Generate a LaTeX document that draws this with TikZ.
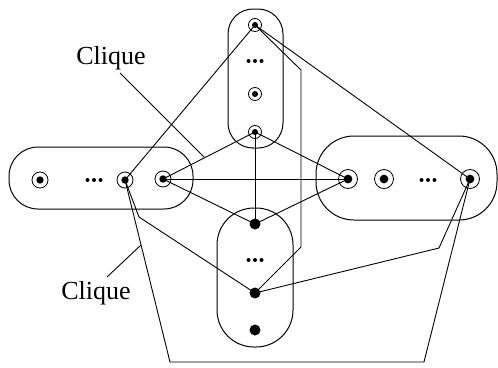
\documentclass[tikz,border=0pt]{standalone}
\usepackage{fontspec}
\setmainfont{Liberation Serif}
\begin{document}
\begin{tikzpicture}[x=1pt,y=-1pt,line width=0.9pt,
  cnode/.style={circle,draw,line width=0.8pt,inner sep=0pt,minimum size=#1,
    path picture={\fill (path picture bounding box.center) circle (0.23*#1);}},
  cnode/.default=15pt,
  bnode/.style={circle,fill,inner sep=0pt,minimum size=11pt},
  dots/.style={inner sep=0pt,minimum width=18pt,minimum height=5pt,
    path picture={\fill ([xshift=-6.5pt]path picture bounding box.center) circle (2pt)
                        (path picture bounding box.center) circle (2pt)
                        ([xshift=6.5pt]path picture bounding box.center) circle (2pt);}},
  boxline/.style={line width=1pt},
  edge/.style={line width=0.9pt},
  lbl/.style={font=\fontsize{26}{30}\selectfont,inner sep=0pt}]
\useasboundingbox (0,0) rectangle (498,367);
% boxes
\draw[boxline,rounded corners=25pt] (228,9) rectangle (283,148);
\draw[boxline,rounded corners=29pt] (9,147) rectangle (193,209);
\draw[boxline,rounded corners=38pt] (316,136) rectangle (497,220);
\draw[boxline,rounded corners=37pt] (217,208) rectangle (293,347);
% nodes
\node[cnode=13pt] (t1) at (255,25) {};
\node[dots] (td) at (255,61) {};
\node[cnode=13pt] (t2) at (255,94) {};
\node[cnode=13pt] (t3) at (255,132) {};
\node[cnode=16pt] (l1) at (40,180) {};
\node[dots] (ld) at (94,180) {};
\node[cnode=16pt] (l2) at (125,180) {};
\node[cnode=16pt] (l3) at (163,179) {};
\node[cnode=19pt] (r1) at (348,179) {};
\node[cnode=19pt] (r2) at (384,179) {};
\node[dots] (rd) at (428,180) {};
\node[cnode=19pt] (r3) at (470,179) {};
\node[bnode] (b1) at (255,224) {};
\node[dots] (bd) at (255,260) {};
\node[bnode] (b2) at (255,293) {};
\node[bnode] (b3) at (255,330) {};
% bend coordinates
\coordinate (p1) at (301,70);
\coordinate (p2) at (301,247);
\coordinate (p3) at (139,217);
\coordinate (p4) at (170,362);
\coordinate (p5) at (424,362);
\coordinate (p6) at (439,248);
% edges
\draw[edge] (t1.center) -- (l2.center);
\draw[edge] (t1.center) -- (r3.center);
\draw[edge] (t1.center) -- (p1) -- (p2) -- (b2.center);
\draw[edge] (t3.center) -- (l3.center);
\draw[edge] (t3.center) -- (r1.center);
\draw[edge] (t3.center) -- (b1.center);
\draw[edge] (l3.center) -- (r1.center);
\draw[edge] (l3.center) -- (b1.center);
\draw[edge] (r1.center) -- (b1.center);
\draw[edge] (l2.center) -- (p3) -- (b2.center);
\draw[edge] (l2.center) -- (p4) -- (p5) -- (r3.center);
\draw[edge] (r3.center) -- (p6) -- (b2.center);
% labels
\node[lbl] (c1) at (111,58) {Clique};
\coordinate (c1s) at (120,73);
\coordinate (c1e) at (204,157);
\draw[edge] (c1s) -- (c1e);
\node[lbl] (c2) at (96,293) {Clique};
\coordinate (c2s) at (107,277);
\coordinate (c2e) at (141,245);
\draw[edge] (c2s) -- (c2e);
\end{tikzpicture}
\end{document}
